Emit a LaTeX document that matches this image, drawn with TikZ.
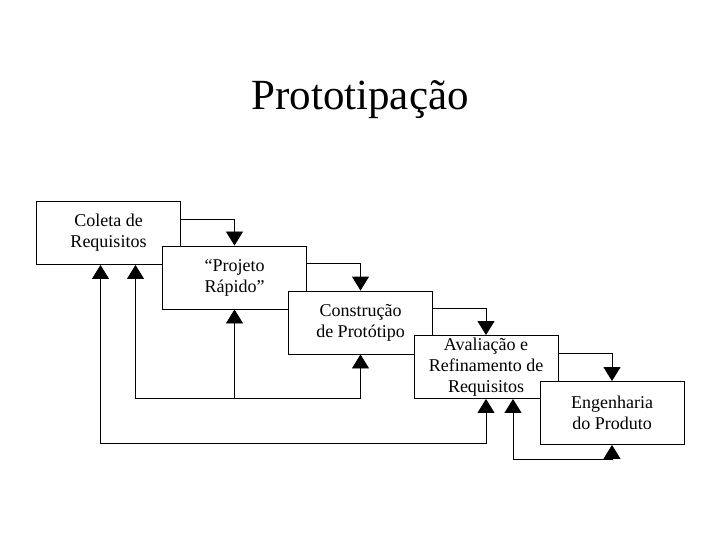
\documentclass[tikz,border=0pt]{standalone}
\usepackage{amsmath, amsfonts, amssymb}
\usepackage{xcolor}
\usepackage{fontspec}
\setmainfont{Liberation Serif}
\usepackage{tikz}
\usetikzlibrary{arrows.meta}

\begin{document}
\begin{tikzpicture}[x=1pt, y=-1pt,
            box/.style={shape=rectangle, draw=black, fill=white, line width=0.9pt, minimum width=144pt, minimum height=63pt, inner sep=0pt, align=center, font=\fontsize{18}{21}\selectfont},
            tip/.style={-{Triangle[width=17pt, length=14pt]}, line width=0.9pt},
            twotip/.style={{Triangle[width=17pt, length=14pt]}-{Triangle[width=17pt, length=14pt]}, line width=0.9pt}]
            \useasboundingbox (0,0) rectangle (720,540);

            \node[font=\fontsize{43}{50}\selectfont] (T) at (360,100) {Prototipação};

            \node[box] (A) at (108.5, 233) {Coleta de\\Requisitos};
            \node[box] (B) at (234.5, 277.5) {“Projeto\\Rápido”};
            \node[box] (C) at (360.5, 322.5) {Construção\\de Protótipo};
            \node[box] (D) at (486, 367) {Avaliação e\\Refinamento de\\Requisitos};
            \node[box] (E) at (612, 413) {Engenharia\\do Produto};

            \draw[tip] ([yshift=14pt]A.east) -| (B.north);
            \draw[tip] ([yshift=14pt]B.east) -| (C.north);
            \draw[tip] ([yshift=14pt]C.east) -| (D.north);
            \draw[tip] ([yshift=14pt]D.east) -| (E.north);

            \draw[twotip] ([xshift=-8pt]A.south) -- ++(0,178) -| (D.south);
            \draw[twotip] ([xshift=27pt]A.south) -- ++(0,133) coordinate (loop) -| (C.south);
            \draw[tip] (loop -| B.south) -- (B.south);

            \draw[twotip] ([xshift=27pt]D.south) -- ++(0,60) -| (E.south);
        \end{tikzpicture}
\end{document}
